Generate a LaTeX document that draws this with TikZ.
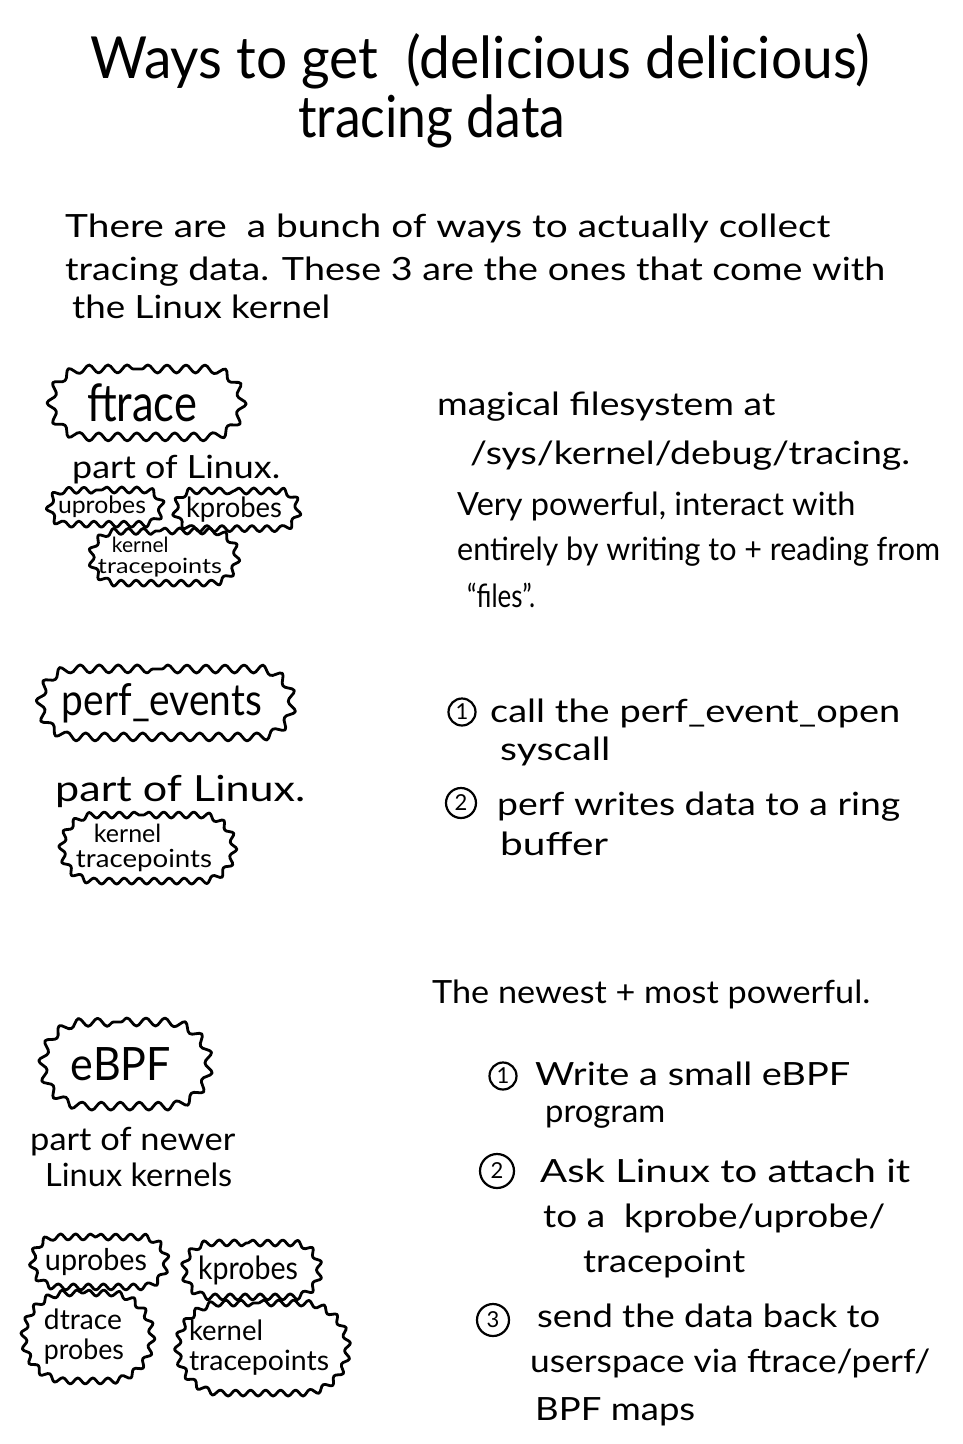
\documentclass[tikz,border=0pt]{standalone}
\usepackage{fontspec}
\setmainfont{Lato}
\usepackage{graphicx}
\usetikzlibrary{decorations.pathmorphing,shapes.misc}
% squeeze or stretch a line of text to a given width, keeping its height
\newcommand\fitw[2]{\resizebox{#1pt}{\height}{#2}}

\begin{document}
\begin{tikzpicture}[x=1pt,y=-1pt,
  ln/.style={anchor=base west, inner sep=0pt, font=\fontsize{32}{38}\selectfont},
  ttl/.style={anchor=base west, inner sep=0pt, font=\fontsize{58}{64}\selectfont},
  cloudy/.style={rounded rectangle, draw, line width=2.8pt, line join=round, decorate,
    decoration={snake, amplitude=3pt, segment length=15pt}, inner sep=0pt, align=center},
  bigcloud/.style={cloudy, decoration={snake, amplitude=4pt, segment length=19pt}},
  num/.style={circle, draw, line width=2.2pt, inner sep=0pt, minimum size=#1pt,
    font=\fontsize{22}{24}\selectfont}
]
\fill[white] (0,0) rectangle (963,1444);
\useasboundingbox (0,0) rectangle (963,1444);

% title
\node[ttl] (title1) at (90,78) {\fitw{780}{Ways to get\ \ (delicious delicious)}};
\node[ttl] (title2) at (298,137) {\fitw{267}{tracing data}};

% introduction
\node[ln] (intro1) at (65,237) {\fitw{765}{There are\ \ a bunch of ways to actually collect}};
\node[ln] (intro2) at (65,280) {\fitw{820}{tracing data. These 3 are the ones that come with}};
\node[ln] (intro3) at (72,318) {\fitw{258}{the Linux kernel}};

% ---- ftrace ----
\node[bigcloud, minimum width=190pt, minimum height=68pt] (ftrace) at (142,403)
  {\fontsize{52}{56}\selectfont\fitw{110}{ftrace}};
\node[ln] (ftlinux) at (72,478) {\fitw{208}{part of Linux.}};
\node[cloudy, minimum width=112pt, minimum height=34pt, font=\fontsize{24}{26}\selectfont] (ftu) at (102,507)
  {\fitw{88}{uprobes}};
\node[cloudy, minimum width=122pt, minimum height=38pt, font=\fontsize{28}{30}\selectfont] (ftk) at (234,510)
  {\fitw{96}{kprobes}};
\node[cloudy, minimum width=146pt, minimum height=52pt, align=left, font=\fontsize{21}{21}\selectfont] (ftkt) at (160,557)
  {\hspace{14pt}kernel\\\fitw{124}{tracepoints}};

\node[ln] (ftr1) at (437,415) {\fitw{338}{magical filesystem at}};
\node[ln] (ftr2) at (470,464) {\fitw{440}{/sys/kernel/debug/tracing.}};
\node[ln] (ftr3) at (457,515) {\fitw{398}{Very powerful, interact with}};
\node[ln] (ftr4) at (457,560) {\fitw{483}{entirely by writing to + reading from}};
\node[ln] (ftr5) at (467,607) {\fitw{68}{``files''.}};

% ---- perf_events ----
\node[bigcloud, minimum width=252pt, minimum height=68pt] (perf) at (162,703)
  {\fontsize{44}{48}\selectfont\fitw{200}{perf\_events}};
\node[ln, font=\fontsize{36}{40}\selectfont] (pflinux) at (55,801) {\fitw{250}{part of Linux.}};
\node[cloudy, minimum width=172pt, minimum height=66pt, align=left, font=\fontsize{25}{25}\selectfont] (pfkt) at (144,848)
  {\hspace{18pt}kernel\\\fitw{136}{tracepoints}};

\node[num=27] (pn1) at (462,712) {1};
\node[ln] (pr1) at (490,722) {\fitw{410}{call the perf\_event\_open}};
\node[ln] (pr2) at (500,760) {\fitw{110}{syscall}};
\node[num=30] (pn2) at (461,803) {2};
\node[ln] (pr3) at (497,815) {\fitw{403}{perf writes data to a ring}};
\node[ln] (pr4) at (500,855) {\fitw{108}{buffer}};

% ---- eBPF ----
\node[bigcloud, minimum width=166pt, minimum height=84pt] (ebpf) at (121,1064)
  {\fontsize{46}{50}\selectfont\fitw{100}{eBPF}};
\node[ln] (eblinux1) at (30,1150) {\fitw{205}{part of newer}};
\node[ln] (eblinux2) at (45,1186) {\fitw{187}{Linux kernels}};
\node[cloudy, minimum width=134pt, minimum height=50pt, font=\fontsize{30}{32}\selectfont] (ebu) at (96,1262)
  {\fitw{102}{uprobes}};
\node[cloudy, minimum width=136pt, minimum height=54pt, font=\fontsize{32}{34}\selectfont] (ebk) at (248,1270)
  {\fitw{100}{kprobes}};
\node[cloudy, minimum width=128pt, minimum height=88pt, align=left, font=\fontsize{28}{30}\selectfont] (ebd) at (84,1337)
  {\fitw{78}{dtrace}\\\fitw{80}{probes}};
\node[cloudy, minimum width=170pt, minimum height=90pt, align=left, font=\fontsize{28}{30}\selectfont] (ebkt) at (259,1348)
  {\fitw{74}{kernel}\\\fitw{140}{tracepoints}};

\node[ln] (er0) at (432,1003) {\fitw{438}{The newest + most powerful.}};
\node[num=27] (en1) at (503,1076) {1};
\node[ln] (er1) at (535,1085) {\fitw{315}{Write a small eBPF}};
\node[ln] (er2) at (545,1122) {\fitw{120}{program}};
\node[num=34] (en2) at (497,1171) {2};
\node[ln] (er3) at (540,1182) {\fitw{370}{Ask Linux to attach it}};
\node[ln] (er4) at (543,1227) {\fitw{342}{to a\ \ kprobe/uprobe/}};
\node[ln] (er5) at (583,1272) {\fitw{162}{tracepoint}};
\node[num=32] (en3) at (493,1320) {3};
\node[ln] (er6) at (537,1327) {\fitw{343}{send the data back to}};
\node[ln] (er7) at (530,1372) {\fitw{400}{userspace via ftrace/perf/}};
\node[ln] (er8) at (535,1420) {\fitw{160}{BPF maps}};
\end{tikzpicture}
\end{document}
